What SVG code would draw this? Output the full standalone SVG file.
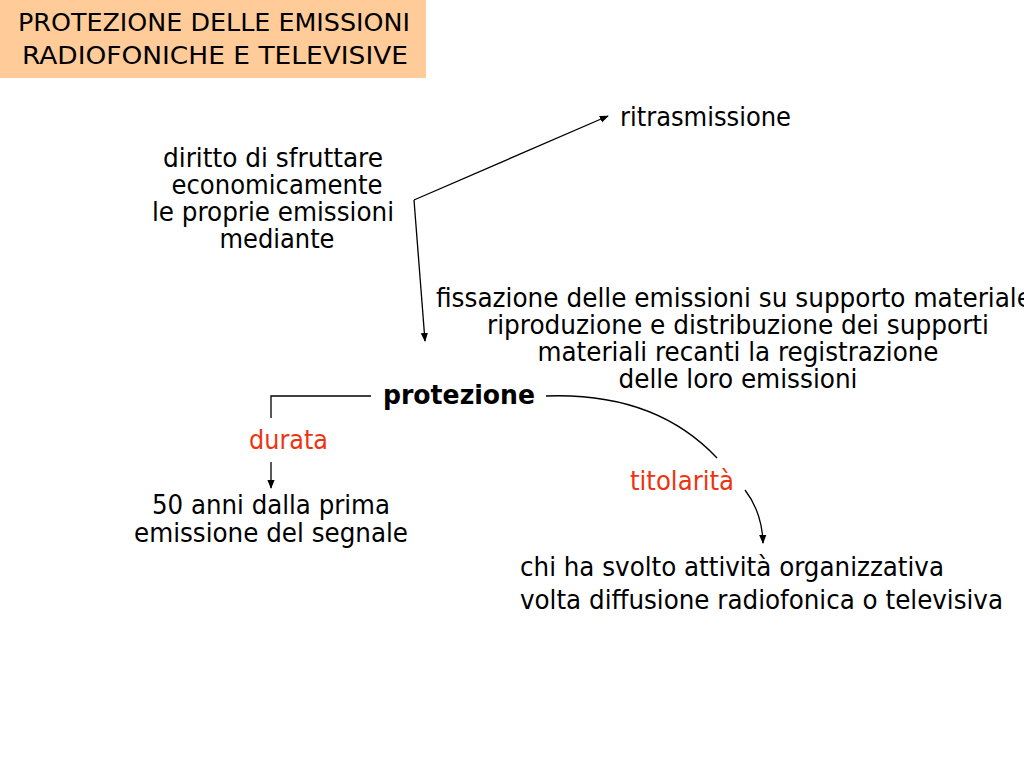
<svg xmlns="http://www.w3.org/2000/svg" width="1024" height="768" viewBox="0 0 1024 768">
<style>
text{font-family:"DejaVu Sans Condensed","DejaVu Sans",sans-serif;font-stretch:condensed;font-size:26px;fill:#000}
.t{font-size:25px}
.c{text-anchor:middle}
.r{fill:#EE3311}
.b{font-weight:bold}
.ln{fill:none;stroke:#000;stroke-width:1.3}
</style>
<defs>
<marker id="ah" viewBox="0 0 10 10" refX="9" refY="5" markerWidth="9" markerHeight="9" markerUnits="userSpaceOnUse" orient="auto">
<path d="M0,1 L10,5 L0,9 Z" fill="#000"/>
</marker>
</defs>
<rect width="1024" height="768" fill="#fff"/>
<g id="title">
<rect x="0" y="0" width="426" height="78" fill="#FFCC99"/>
<text class="c t" x="214" y="31" textLength="392" lengthAdjust="spacingAndGlyphs">PROTEZIONE DELLE EMISSIONI</text>
<text class="c t" x="215" y="64" textLength="386" lengthAdjust="spacingAndGlyphs">RADIOFONICHE E TELEVISIVE</text>
</g>
<g id="diritto">
<text class="c" x="273" y="167" textLength="220" lengthAdjust="spacingAndGlyphs">diritto di sfruttare</text>
<text class="c" x="277" y="194" textLength="211" lengthAdjust="spacingAndGlyphs">economicamente</text>
<text class="c" x="273" y="221" textLength="242" lengthAdjust="spacingAndGlyphs">le proprie emissioni</text>
<text class="c" x="277" y="248" textLength="115" lengthAdjust="spacingAndGlyphs">mediante</text>
</g>
<g id="ritrasmissione">
<text x="620" y="126" textLength="171" lengthAdjust="spacingAndGlyphs">ritrasmissione</text>
</g>
<g id="fissazione">
<text x="436" y="307" textLength="596" lengthAdjust="spacingAndGlyphs">fissazione delle emissioni su supporto materiale</text>
<text class="c" x="738" y="334" textLength="502" lengthAdjust="spacingAndGlyphs">riproduzione e distribuzione dei supporti</text>
<text class="c" x="738" y="361" textLength="401" lengthAdjust="spacingAndGlyphs">materiali recanti la registrazione</text>
<text class="c" x="738" y="388" textLength="239" lengthAdjust="spacingAndGlyphs">delle loro emissioni</text>
</g>
<g id="protezione">
<text class="b" x="383" y="404" textLength="152" lengthAdjust="spacingAndGlyphs">protezione</text>
</g>
<g id="durata">
<text class="r" x="249" y="449" textLength="79" lengthAdjust="spacingAndGlyphs">durata</text>
</g>
<g id="anni">
<text class="c" x="271" y="514" textLength="238" lengthAdjust="spacingAndGlyphs">50 anni dalla prima</text>
<text class="c" x="271" y="542" textLength="274" lengthAdjust="spacingAndGlyphs">emissione del segnale</text>
</g>
<g id="titolarita">
<text class="r" x="630" y="490" textLength="104" lengthAdjust="spacingAndGlyphs">titolarità</text>
</g>
<g id="chi">
<text x="520" y="576" textLength="424" lengthAdjust="spacingAndGlyphs">chi ha svolto attività organizzativa</text>
<text x="520" y="609" textLength="483" lengthAdjust="spacingAndGlyphs">volta diffusione radiofonica o televisiva</text>
</g>
<g id="connectors">
<path class="ln" d="M414,200 L608,116" marker-end="url(#ah)"/>
<path class="ln" d="M414,200 L425,341" marker-end="url(#ah)"/>
<path class="ln" d="M371,396 L271,396 L271,418"/>
<path class="ln" d="M271,462 L271,488" marker-end="url(#ah)"/>
<path class="ln" d="M546,396 Q655,392 717,458"/>
<path class="ln" d="M745,490 Q762,512 763,543" marker-end="url(#ah)"/>
</g>
</svg>
